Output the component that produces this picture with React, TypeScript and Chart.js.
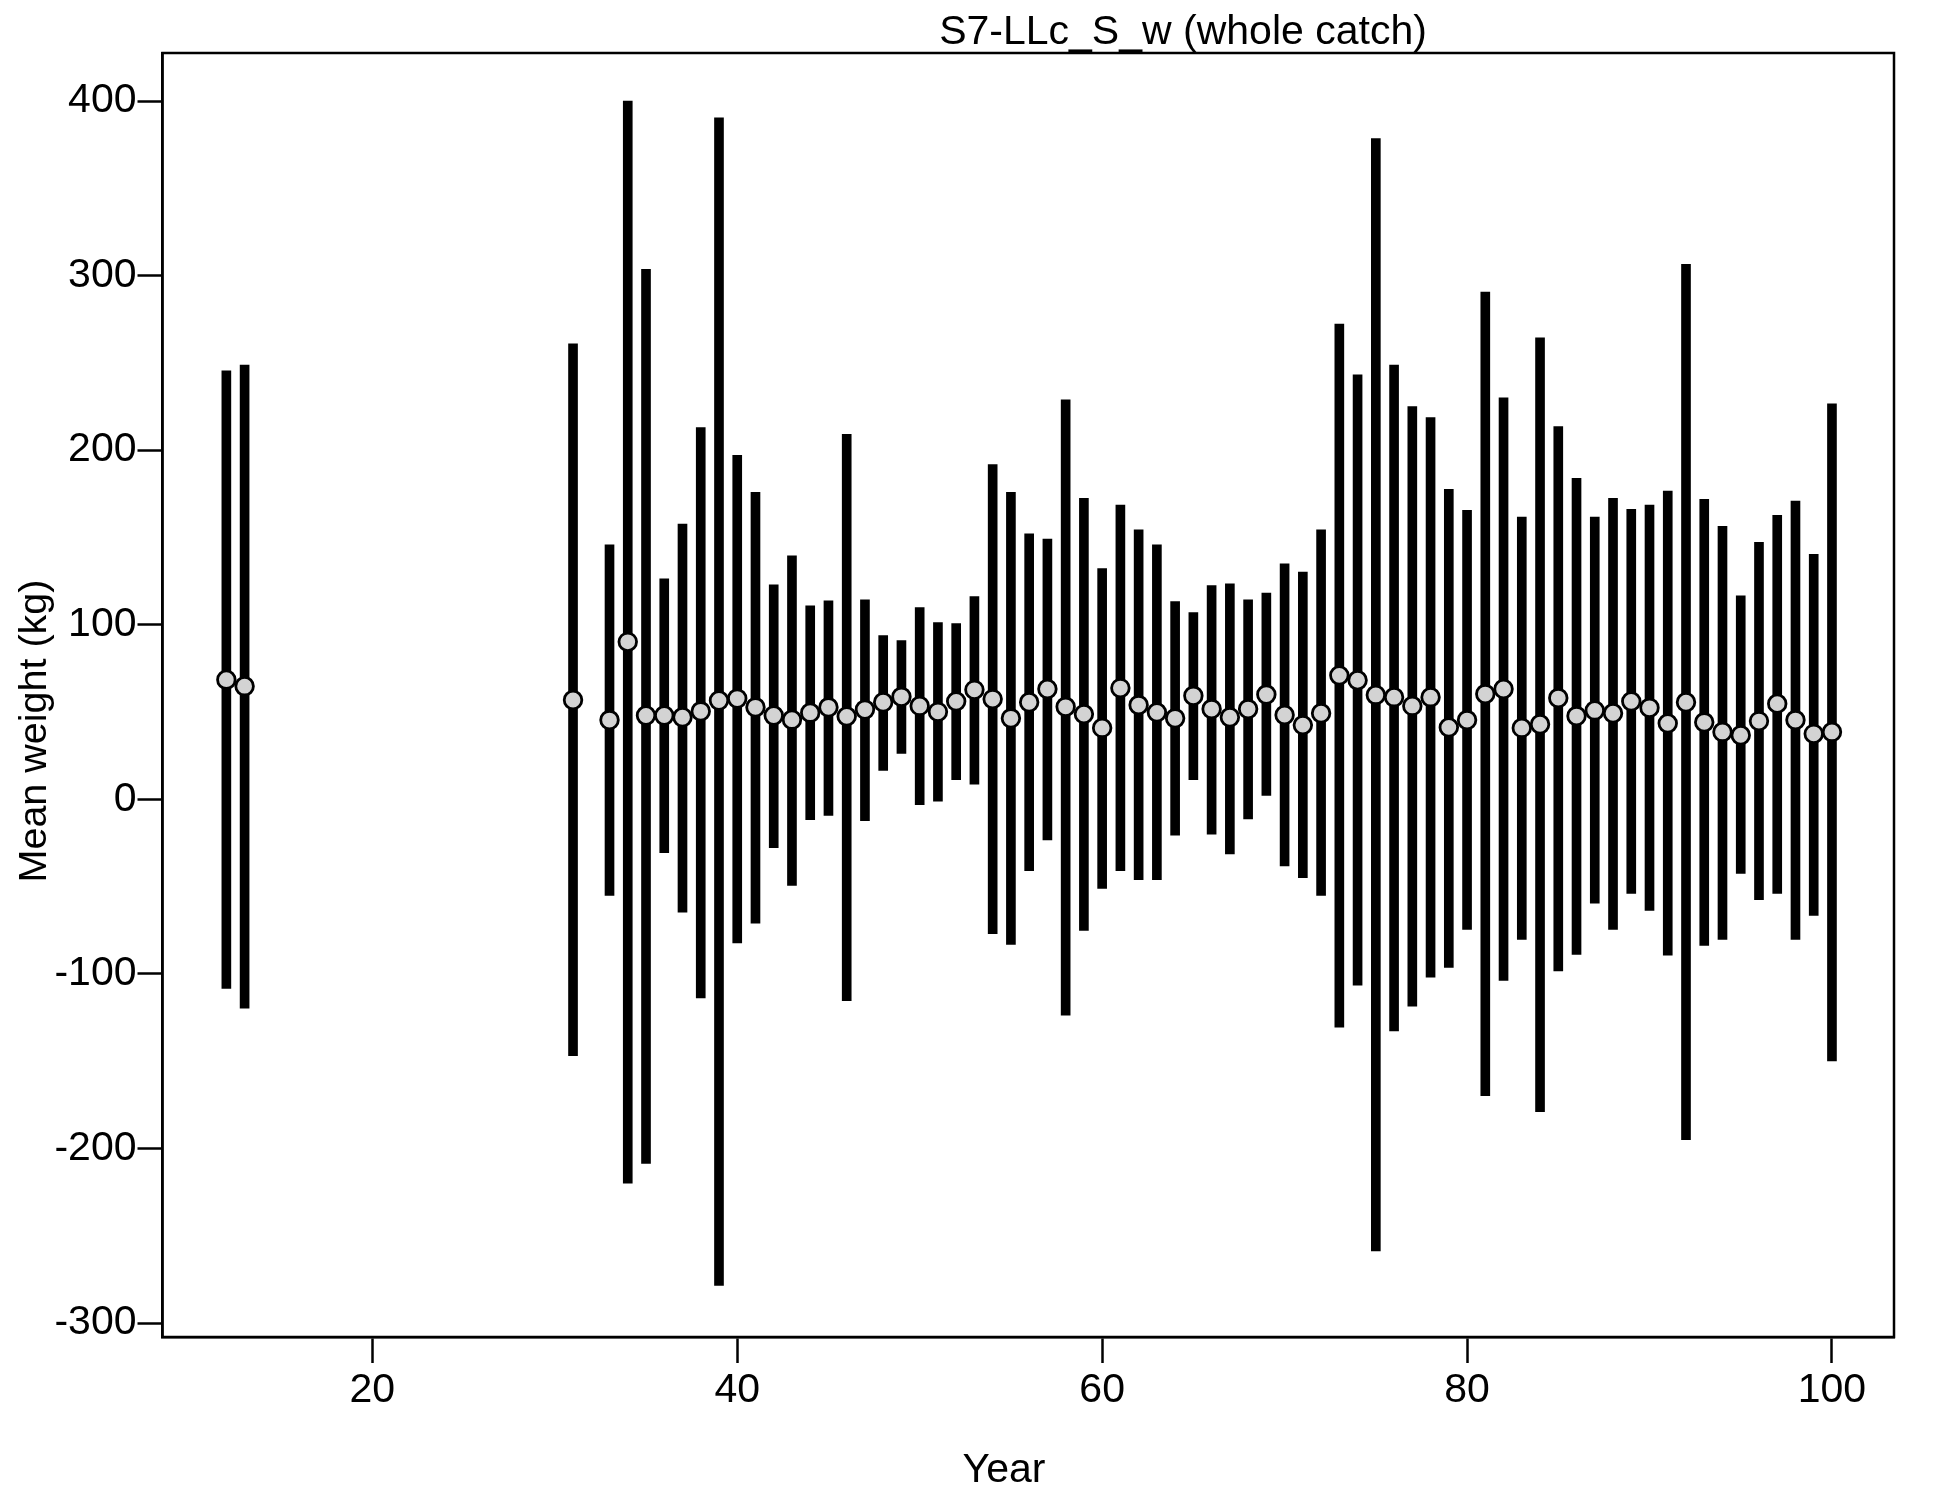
import React, { useEffect, useRef } from 'react';
import { Chart, registerables } from 'chart.js';

Chart.register(...registerables);

const years = [12, 13, 31, 33, 34, 35, 36, 37, 38, 39, 40, 41, 42, 43, 44, 45, 46, 47, 48, 49, 50,
  51, 52, 53, 54, 55, 56, 57, 58, 59, 60, 61, 62, 63, 64, 65, 66, 67, 68, 69, 70,
  71, 72, 73, 74, 75, 76, 77, 78, 79, 80, 81, 82, 83, 84, 85, 86, 87, 88, 89, 90,
  91, 92, 93, 94, 95, 96, 97, 98, 99, 100];

const means = [68.5, 64.8, 56.9, 45.4, 90.2, 48.0, 48.0, 47.0, 50.4, 56.6, 57.7, 52.7, 48.0, 45.6, 49.6, 52.7, 47.5, 51.4, 55.6, 58.7, 53.5,
  50.1, 56.1, 62.7, 57.4, 46.4, 55.6, 63.2, 53.0, 48.8, 40.9, 63.7, 54.0, 49.8, 46.4, 59.3, 51.7, 47.0, 51.7, 60.0, 48.3,
  42.5, 49.3, 71.0, 68.2, 59.8, 58.5, 53.5, 58.5, 41.2, 45.4, 60.3, 63.2, 40.9, 43.0, 58.0, 47.7, 50.9, 49.3, 56.1, 52.4,
  43.5, 55.6, 44.1, 38.6, 36.7, 44.8, 54.8, 45.4, 37.5, 38.6];

const uppers = [245.4, 248.8, 260.9, 145.7, 399.9, 303.6, 126.3, 157.7, 213.0, 390.3, 197.0, 175.8, 122.9, 139.4, 110.8, 113.7, 209.0, 114.3, 93.8, 90.9, 109.8,
  101.2, 100.6, 116.1, 191.8, 175.8, 152.0, 149.1, 228.9, 172.4, 132.1, 168.5, 154.3, 145.7, 113.2, 106.9, 122.4, 123.4, 114.3, 118.2, 134.9,
  130.2, 154.3, 272.2, 243.1, 378.5, 248.8, 225.0, 218.7, 177.6, 165.6, 290.5, 230.0, 161.6, 264.3, 213.5, 183.9, 161.6, 172.4, 166.1, 168.5,
  176.6, 306.5, 171.9, 156.4, 116.6, 147.2, 162.7, 170.8, 140.4, 226.6];

const lowers = [-108.3, -119.7, -146.9, -55.1, -219.9, -208.5, -30.5, -64.7, -113.7, -278.5, -82.3, -70.9, -27.7, -49.3, -11.7, -9.3, -115.3, -12.3, 16.6, 26.3, -3.1,
  -1.0, 11.3, 8.7, -76.9, -83.1, -40.9, -23.3, -123.7, -75.1, -51.1, -40.9, -46.1, -46.1, -20.5, 11.3, -19.9, -31.3, -11.3, 2.2, -38.1,
  -44.9, -55.1, -130.5, -106.5, -258.7, -132.7, -118.5, -101.9, -96.3, -74.5, -169.7, -103.7, -80.3, -178.9, -98.3, -88.9, -59.5, -74.5, -53.9, -63.7,
  -89.3, -194.9, -83.7, -80.3, -42.5, -57.5, -53.9, -80.3, -66.5, -149.9];

const xTicks = [20, 40, 60, 80, 100];
const yTicks = [-300, -200, -100, 0, 100, 200, 300, 400];

const titleText = 'S7-LLc_S_w (whole catch)';
const xTitleText = 'Year';
const yTitleText = 'Mean weight (kg)';

const FONT = '"Liberation Sans", Arial, sans-serif';

const decoPlugin = {
  id: 'deco',
  afterDraw(chart: any) {
    const { ctx, chartArea: a } = chart;
    ctx.save();
    ctx.strokeStyle = '#000';
    ctx.lineWidth = 2.5;
    ctx.strokeRect(a.left, a.top, a.right - a.left, a.bottom - a.top);
    ctx.fillStyle = '#000';
    ctx.textAlign = 'center';
    ctx.textBaseline = 'alphabetic';
    ctx.font = `41px ${FONT}`;
    ctx.fillText(titleText, 1183, 44);
    ctx.textBaseline = 'middle';
    ctx.font = `41px ${FONT}`;
    ctx.fillText(xTitleText, 1004, 1471);
    ctx.font = `39.5px ${FONT}`;
    ctx.translate(35, 731);
    ctx.rotate(-Math.PI / 2);
    ctx.fillText(yTitleText, 0, 0);
    ctx.restore();
  },
};

export default function App() {
  const ref = useRef<HTMLCanvasElement | null>(null);

  useEffect(() => {
    if (!ref.current) return;
    const bars = years.map((x, i) => ({ x, y: [lowers[i], uppers[i]] }));
    const pts = years.map((x, i) => ({ x, y: means[i] }));
    const chart = new Chart(ref.current, {
      type: 'bar',
      data: {
        datasets: [
          {
            type: 'scatter',
            data: pts,
            order: 0,
            pointRadius: 8.8,
            pointBackgroundColor: 'rgb(211,211,211)',
            pointBorderColor: '#000',
            pointBorderWidth: 2.8,
            showLine: false,
          } as any,
          {
            type: 'bar',
            data: bars as any,
            order: 1,
            backgroundColor: '#000',
            borderWidth: 0,
            barThickness: 9,
          } as any,
        ],
      },
      options: {
        responsive: false,
        animation: false,
        devicePixelRatio: 1,
        layout: { padding: { left: 0, right: 56, top: 53, bottom: 0 } },
        plugins: {
          legend: { display: false },
          tooltip: { enabled: false },
        },
        events: [],
        scales: {
          x: {
            type: 'linear',
            min: 8.5,
            max: 103.4,
            offset: false,
            afterBuildTicks: (s: any) => {
              s.ticks = xTicks.map((v) => ({ value: v }));
            },
            afterFit: (s: any) => {
              s.height = 163;
            },
            grid: {
              offset: false,
              drawOnChartArea: false,
              drawTicks: true,
              tickLength: 26,
              tickWidth: 2.5,
              tickColor: '#000',
            },
            border: { display: true, color: '#000', width: 2.5 },
            ticks: {
              color: '#000',
              font: { family: FONT, size: 41 },
              padding: 3,
              maxRotation: 0,
              autoSkip: false,
              callback: (v: any) => String(v),
            },
          },
          y: {
            type: 'linear',
            min: -308,
            max: 427.5,
            afterBuildTicks: (s: any) => {
              s.ticks = yTicks.map((v) => ({ value: v }));
            },
            afterFit: (s: any) => {
              s.width = 162.5;
            },
            grid: {
              offset: false,
              drawOnChartArea: false,
              drawTicks: true,
              tickLength: 25,
              tickWidth: 2.5,
              tickColor: '#000',
            },
            border: { display: true, color: '#000', width: 2.5 },
            ticks: {
              color: '#000',
              font: { family: FONT, size: 41 },
              padding: 1,
              autoSkip: false,
              callback: (v: any) => String(v),
            },
          },
        },
      } as any,
      plugins: [decoPlugin],
    });
    return () => chart.destroy();
  }, []);

  return (
    <canvas
      ref={ref}
      width={1950}
      height={1500}
      style={{ position: 'absolute', left: 0, top: 0, width: 1950, height: 1500, background: '#fff' }}
    />
  );
}
